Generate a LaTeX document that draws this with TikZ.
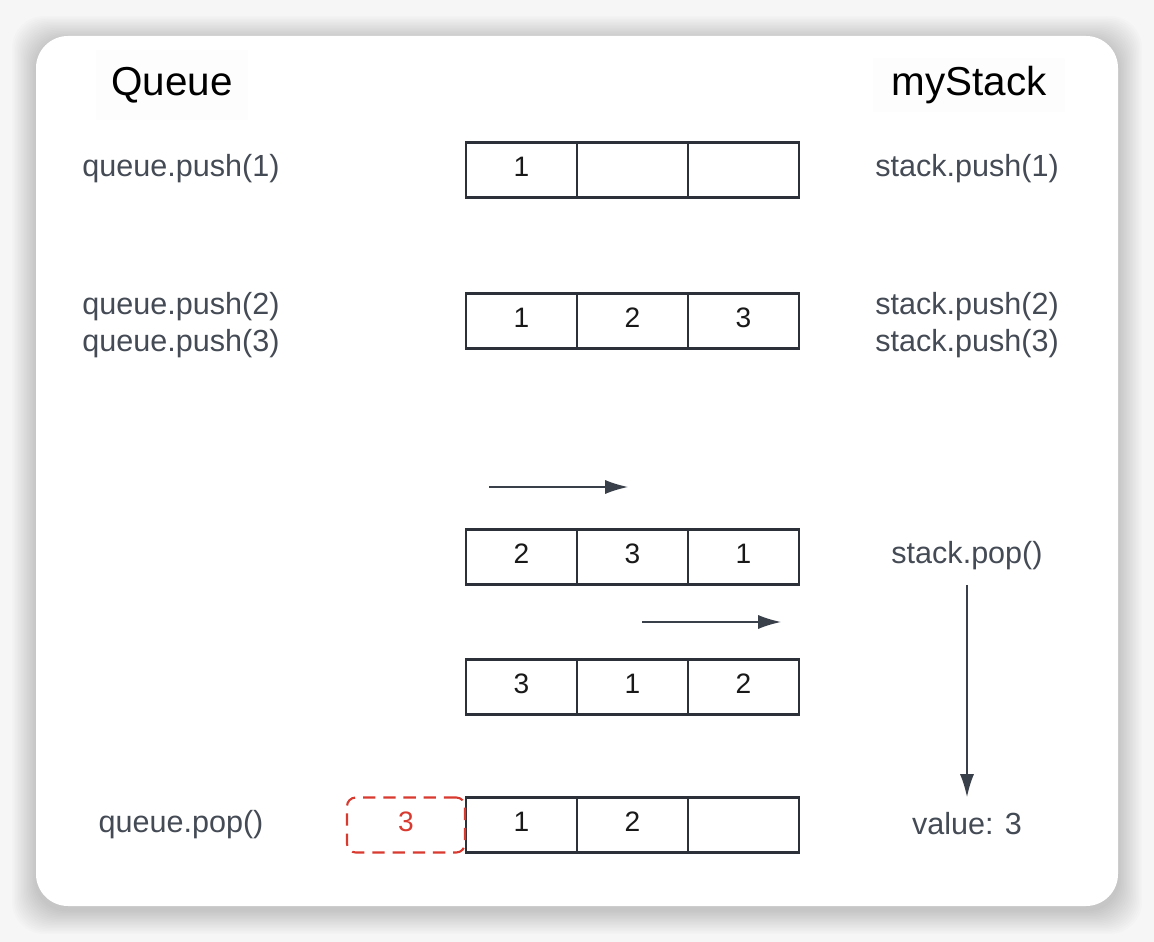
\documentclass[tikz,border=0pt]{standalone}
\usepackage{fontspec}
\setmainfont{Liberation Sans}
\usetikzlibrary{arrows.meta}

\definecolor{pagegray}{HTML}{F6F6F6}
\definecolor{titlebg}{HTML}{FDFDFD}
\definecolor{codegray}{HTML}{454B55}
\definecolor{cellline}{HTML}{2C3038}
\definecolor{arrowgray}{HTML}{3A4049}
\definecolor{popred}{HTML}{D93A2F}

\tikzset{
  cell/.style={draw=cellline, line width=1.4pt, minimum width=2.22cm, minimum height=1.1cm,
    inner sep=0pt, outer sep=0pt, text depth=3.4pt, font=\fontsize{16}{19}\selectfont, text=black!90},
  code/.style={text=codegray, font=\fontsize{17.4}{21.5}\selectfont, align=center},
  title/.style={fill=titlebg, text=black, font=\fontsize{23}{27}\selectfont},
  flow/.style={draw=arrowgray, line width=0.8pt, -{Latex[length=13pt,width=8pt]}}
}

\begin{document}
\begin{tikzpicture}[x=0.02cm, y=-0.02cm]
			%%%	Fondo
			\useasboundingbox (0,0) rectangle (1154,942);
			\fill[pagegray] (0,0) rectangle (1154,942);
			\foreach \i in {1,...,16}
				\fill[black, opacity=0.011, rounded corners=0.64cm] (36-1.5*\i,36-1.5*\i+4) rectangle (1118+1.5*\i,906+1.5*\i+4);
			\fill[white, rounded corners=0.64cm] (36,36) rectangle (1118,906);
			%%%	Titoli
			\node[title, minimum width=3.04cm, minimum height=1.4cm] (tq) at (172,85) {Queue};
			\node[title, minimum width=3.84cm, minimum height=1.1cm] (ts) at (969,85) {myStack};
			%%%	Operazioni
			\node[code] (q1) at (181,169) {queue.push(1)};
			\node[code] (q2) at (181,325) {queue.push(2)\\queue.push(3)};
			\node[code] (qp) at (181,825) {queue.pop()};
			\node[code] (s1) at (967,169) {stack.push(1)};
			\node[code] (s2) at (967,325) {stack.push(2)\\stack.push(3)};
			\node[code] (spop) at (967,556) {stack.pop()};
			\node[code] (sval) at (967,824) {value: 3};
			%%%	Celle
			\foreach \r/\y/\a/\b/\c in {a/170/1//, b/321/1/2/3, c/557/2/3/1, d/687/3/1/2, e/825/1/2/} {
				\node[cell] (\r1) at (521.5,\y) {\a};
				\node[cell] (\r2) at (632.5,\y) {\b};
				\node[cell] (\r3) at (743.5,\y) {\c};
			}
			\node[draw=popred, text=popred, dash pattern=on 7pt off 4.5pt, line width=1.2pt,
				rounded corners=5pt, minimum width=2.36cm, minimum height=1.1cm, inner sep=0pt, text depth=3.4pt,
				anchor=east, font=\fontsize{16}{19}\selectfont] (out) at (e1.west) {3};
			%%%	Frecce
			\coordinate (m1) at (489,487);
			\coordinate (m2) at (628,487);
			\coordinate (m3) at (642,622);
			\coordinate (m4) at (781,622);
			\draw[flow] (m1) -- (m2);
			\draw[flow] (m3) -- (m4);
			\draw[flow, shorten <=0.58cm, shorten >=0.54cm] (spop.center) -- (sval.center);
		\end{tikzpicture}
\end{document}
